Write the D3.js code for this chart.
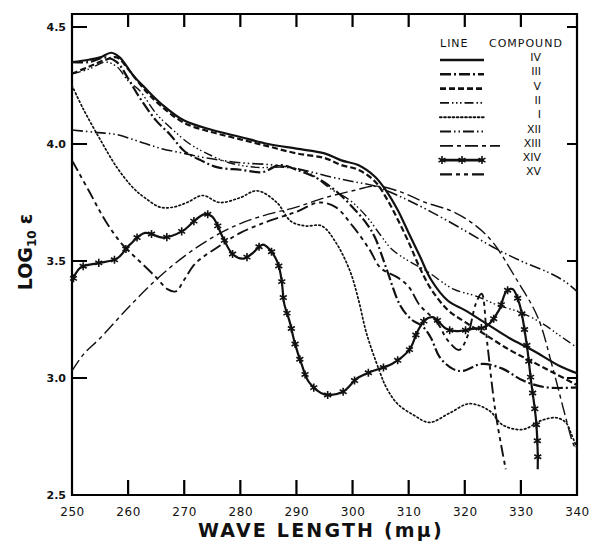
<!DOCTYPE html>
<html>
<head>
<meta charset="utf-8">
<script src="https://cdn.jsdelivr.net/npm/d3@7"></script>
<style>
  body { margin: 0; background: #fff; }
  svg { display: block; }
  text { font-family: 'DejaVu Sans', sans-serif; fill: #111; }
</style>
</head>
<body>
<svg id="chart" width="593" height="547"></svg>
<script>
// wave length (m\u03bc) vs log10 epsilon
const compoundIV = [[250,4.35],[253,4.36],[255,4.37],[257,4.39],[258.5,4.37],[261,4.29],[263,4.24],[266,4.17],[270,4.10],[275,4.06],[280,4.03],[285,4.00],[290,3.98],[295,3.96],[298,3.93],[301,3.91],[304,3.86],[306,3.80],[308,3.72],[310,3.62],[312,3.52],[314,3.42],[317,3.33],[320,3.29],[324,3.23],[328,3.17],[332,3.12],[337,3.05],[340,3.02]]
const compoundIII = [[250,4.35],[253,4.35],[256,4.37],[258,4.35],[260,4.28],[262,4.20],[265,4.10],[267.5,4.04],[270,3.97],[273,3.93],[276,3.90],[280,3.89],[284,3.88],[287,3.91],[290,3.89],[294,3.85],[297,3.80],[300,3.73],[302.5,3.66],[304,3.60],[306,3.47],[308.5,3.31],[310.5,3.25],[312.5,3.22],[314,3.17],[315.5,3.09],[317.8,3.04],[319.6,3.03],[323,3.06],[326.7,3.04],[330.3,2.99],[334.5,2.96],[340,2.96]]
const compoundV = [[250,4.30],[253,4.33],[256,4.36],[258,4.37],[260,4.32],[263,4.23],[266,4.16],[270,4.09],[275,4.05],[280,4.02],[285,3.99],[290,3.96],[295,3.94],[298,3.91],[301,3.89],[304,3.84],[306,3.77],[308,3.68],[310,3.58],[312,3.47],[314,3.38],[317,3.29],[320,3.24],[324,3.18],[328,3.12],[332,3.07],[336,3.02],[340,2.97]]
const compoundII = [[250,4.30],[253,4.32],[256,4.35],[258,4.33],[260,4.27],[262,4.23],[265,4.13],[268,4.06],[271,4.00],[274,3.96],[278,3.92],[283,3.90],[288,3.90],[292,3.88],[296,3.81],[299.5,3.76],[302.5,3.69],[305,3.61],[307,3.55],[310,3.50],[313,3.46],[318,3.38],[322,3.35],[326,3.31],[330,3.28],[334,3.23],[337,3.18],[340,3.13]]
const compoundI = [[250,4.25],[252,4.15],[255,4.02],[258,3.90],[261,3.81],[263,3.77],[265.7,3.73],[268,3.73],[270.5,3.75],[273.3,3.78],[276.3,3.75],[279.9,3.77],[283,3.80],[286.5,3.75],[289,3.67],[291.5,3.65],[294.5,3.65],[297,3.58],[299.5,3.46],[301,3.34],[302.5,3.19],[304.8,3.03],[306,2.96],[308,2.89],[311,2.84],[313.7,2.81],[317.3,2.85],[320.8,2.89],[324.4,2.86],[326.7,2.80],[330.3,2.78],[333.8,2.82],[336.3,2.83],[338,2.81],[339,2.76],[340,2.70]]
const compoundXII = [[250,4.06],[254,4.05],[258,4.04],[262,4.01],[266,3.98],[270,3.96],[274,3.94],[280,3.92],[286,3.91],[291,3.89],[296,3.86],[300,3.84],[304,3.82],[309,3.77],[314,3.71],[320,3.63],[325,3.56],[330,3.50],[335,3.45],[338,3.41],[340,3.37]]
const compoundXIII = [[250,3.03],[252,3.10],[255,3.17],[260,3.30],[265,3.42],[270,3.52],[275,3.60],[280,3.66],[285,3.70],[290,3.73],[295,3.77],[300,3.80],[304,3.82],[308,3.80],[313,3.75],[318,3.71],[322,3.65],[325,3.58],[329,3.43],[333,3.26],[335.6,3.05],[338,2.83],[339.3,2.72],[340,2.69]]
const compoundXIV = [[250,3.41],[251.4,3.47],[254.4,3.49],[258,3.51],[260.3,3.57],[263,3.62],[266.2,3.60],[269.8,3.63],[272.2,3.68],[273.7,3.70],[275,3.69],[276.9,3.60],[278.6,3.53],[280.4,3.51],[282,3.53],[284,3.57],[285.2,3.55],[286.7,3.49],[287.4,3.41],[287.8,3.32],[288.8,3.24],[289.7,3.15],[290.9,3.06],[292.3,2.98],[295,2.93],[298.2,2.94],[300.9,3.00],[303.6,3.03],[307,3.06],[310.1,3.12],[311.6,3.20],[313,3.25],[314.3,3.26],[316.7,3.21],[318.5,3.20],[321.4,3.21],[323.8,3.22],[326.1,3.29],[327.4,3.37],[328.5,3.38],[329.7,3.32],[331,3.15],[331.8,2.99],[332.7,2.82],[333,2.68],[333,2.61]]
const compoundXV = [[250,3.93],[253,3.80],[256,3.67],[259,3.57],[262,3.50],[265,3.43],[267,3.38],[268.5,3.37],[270,3.42],[272,3.49],[276,3.56],[280,3.62],[285,3.67],[290,3.71],[294,3.75],[297,3.73],[300,3.65],[303,3.55],[305,3.47],[308,3.43],[310,3.39],[312,3.31],[315,3.24],[317,3.16],[319,3.12],[320.5,3.18],[322,3.32],[323,3.36],[324,3.15],[325.5,2.85],[327.3,2.61]]

const legendLabels = ['IV', 'III', 'V', 'II', 'I', 'XII', 'XIII', 'XIV', 'XV']
const xTicks = [250, 260, 270, 280, 290, 300, 310, 320, 330, 340]
const yTicks = [2.5, 3.0, 3.5, 4.0, 4.5]

const svg = d3.select('#chart')
const mLeft = 72, mRight = 577, mTop = 14, mBottom = 495

const x = d3.scaleLinear().domain([250, 340]).range([mLeft, mRight])
const y = d3.scaleLinear().domain([2.5, 4.5]).range([mBottom, 27])

// line styles, same order as the legend
const styles = {
  IV:   { data: compoundIV,   dash: null,                          w: 2.2 },
  III:  { data: compoundIII,  dash: '11,3,2,3',                    w: 2.2 },
  V:    { data: compoundV,    dash: '6,3',                         w: 2.2 },
  II:   { data: compoundII,   dash: '9,3,1.5,2.5,1.5,2.5,1.5,3',   w: 1.4 },
  I:    { data: compoundI,    dash: '1.6,2.6',                     w: 1.7 },
  XII:  { data: compoundXII,  dash: '11,3,1.5,3,1.5,3',            w: 1.6 },
  XIII: { data: compoundXIII, dash: '13,4,4,4',                    w: 1.4 },
  XIV:  { data: compoundXIV,  dash: null,                          w: 2.2 },
  XV:   { data: compoundXV,   dash: '12,4,4,4,4,4',                w: 1.9 },
}

// frame plus inward tick marks on all four sides, as one path
const fp = d3.path()
fp.rect(mLeft, mTop, mRight - mLeft, mBottom - mTop)
xTicks.slice(1, -1).forEach((d) => {
  fp.moveTo(x(d), mBottom); fp.lineTo(x(d), mBottom - 15)
  fp.moveTo(x(d), mTop); fp.lineTo(x(d), mTop + 13)
})
yTicks.slice(1).forEach((d) => {
  fp.moveTo(mLeft, y(d)); fp.lineTo(mLeft + 15, y(d))
  fp.moveTo(mRight, y(d)); fp.lineTo(mRight - 10, y(d))
})
svg.append('path')
  .attr('d', fp.toString())
  .attr('fill', 'none').attr('stroke', '#000').attr('stroke-width', 2.2)

// axis labels (bottom and left)
svg.append('g')
  .attr('transform', `translate(0,${mBottom})`)
  .call(d3.axisBottom(x).tickValues(xTicks).tickSize(0).tickPadding(12).tickFormat(d3.format('d')))
  .call((g) => g.select('.domain').remove())
  .call((g) => g.selectAll('text').style('font-size', '12px').style('letter-spacing', '0.6px').attr('fill', '#111')
    .style('font-family', "'DejaVu Sans', sans-serif"))
svg.append('g')
  .attr('transform', `translate(${mLeft},0)`)
  .call(d3.axisLeft(y).tickValues(yTicks).tickSize(0).tickPadding(6).tickFormat(d3.format('.1f')))
  .call((g) => g.select('.domain').remove())
  .call((g) => g.selectAll('text').style('font-size', '11px').style('font-weight', 'bold').attr('fill', '#111')
    .style('font-family', "'DejaVu Sans', sans-serif"))

// axis titles
svg.append('text')
  .attr('x', 321).attr('y', 537)
  .attr('text-anchor', 'middle')
  .style('font-size', '19px').style('font-weight', 'bold').style('letter-spacing', '2.2px')
  .text('WAVE LENGTH (m\u03bc)')
const yt = svg.append('text')
  .attr('transform', 'translate(32,252) rotate(-90)')
  .attr('text-anchor', 'middle')
  .style('font-size', '19px').style('font-weight', 'bold')
yt.append('tspan').text('LOG')
yt.append('tspan').attr('dy', 4).style('font-size', '12px').text('10')
yt.append('tspan').attr('dy', -4).attr('dx', 6).text('\u03b5')

// curves
const line = d3.line()
  .x((d) => x(d[0]))
  .y((d) => y(d[1]))
  .curve(d3.curveCatmullRom.alpha(0.5))

const star = d3.symbol(d3.symbolAsterisk, 45)

legendLabels.forEach((name) => {
  const s = styles[name]
  const path = svg.append('path')
    .datum(s.data)
    .attr('d', line)
    .attr('fill', 'none')
    .attr('stroke', '#111')
    .attr('stroke-width', s.w)
    .attr('stroke-dasharray', s.dash)
    .attr('stroke-linecap', name === 'I' ? 'round' : 'butt')
  if (name === 'XIV') {
    const node = path.node()
    const len = node.getTotalLength()
    const marks = d3.range(4, len, 16).map((l) => node.getPointAtLength(l))
    svg.append('g').selectAll('path').data(marks).join('path')
      .attr('d', star)
      .attr('transform', (p) => `translate(${p.x},${p.y})`)
      .attr('stroke', '#111').attr('stroke-width', 1.6).attr('fill', 'none')
  }
})

// legend
const lg = svg.append('g')
lg.append('text').attr('x', 440).attr('y', 47).style('font-size', '11px').style('letter-spacing', '1px').text('LINE')
lg.append('text').attr('x', 489).attr('y', 47).style('font-size', '11px').style('letter-spacing', '1px').text('COMPOUND')
legendLabels.forEach((name, i) => {
  const s = styles[name]
  const ly = 60 + i * 14.3
  const x2 = name === 'XIII' ? 500 : 484
  lg.append('line')
    .attr('x1', 440).attr('x2', x2).attr('y1', ly).attr('y2', ly)
    .attr('stroke', '#111').attr('stroke-width', s.w + 0.4)
    .attr('stroke-dasharray', s.dash)
    .attr('stroke-linecap', name === 'I' ? 'round' : 'butt')
  if (name === 'XIV') {
    lg.append('g').selectAll('path').data([442, 462, 482]).join('path')
      .attr('d', star)
      .attr('transform', (d) => `translate(${d},${ly})`)
      .attr('stroke', '#111').attr('stroke-width', 1.6).attr('fill', 'none')
  }
  lg.append('text')
    .attr('x', 541).attr('y', ly + 1)
    .attr('text-anchor', 'end')
    .style('font-size', '11px')
    .text(name)
})
</script>
</body>
</html>
